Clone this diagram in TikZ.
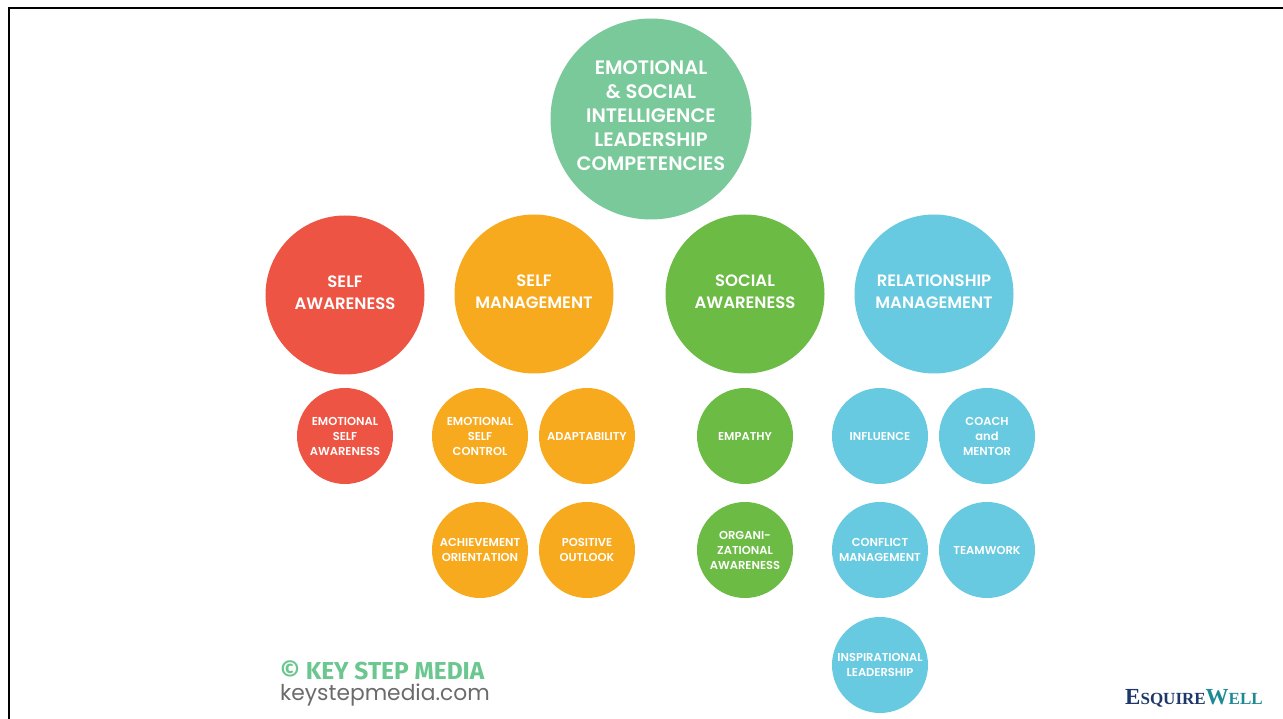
\documentclass[tikz,border=0pt]{standalone}
\usepackage{fontspec}
\setmainfont{Poppins}[BoldFont={Poppins SemiBold}]
\newfontfamily\footfont{Fira Sans}
\newfontfamily\logofont{Liberation Serif}
\definecolor{cMint}{HTML}{79C99A}
\definecolor{cRed}{HTML}{EE5443}
\definecolor{cOrange}{HTML}{F8AA1E}
\definecolor{cGreen}{HTML}{6BBB45}
\definecolor{cBlue}{HTML}{67CAE0}
\definecolor{cFoot}{HTML}{6CC690}
\definecolor{cGray}{HTML}{6B6B6B}
\definecolor{cNavy}{HTML}{1D3769}
\definecolor{cTeal}{HTML}{1F8A93}
\tikzset{
  bubble/.style={circle, inner sep=0pt, text=white, align=center},
  topc/.style={bubble, fill=cMint, minimum size=201pt, text depth=7pt,
    font=\bfseries\fontsize{19.5}{24}\selectfont},
  bigc/.style={bubble, minimum size=159pt, text depth=5pt,
    font=\bfseries\fontsize{16.5}{22}\selectfont},
  smallc/.style={bubble, minimum size=96pt,
    font=\bfseries\fontsize{11.5}{15}\selectfont},
  frame/.style={line width=2.5pt, black},
}
\begin{document}
\begin{tikzpicture}[x=1pt,y=-1pt]
\useasboundingbox (0,0) rectangle (1283,719);
% page frame (top and left edges)
\coordinate (fTR) at (1283,8);
\coordinate (fTL) at (9,8);
\coordinate (fBL) at (9,719);
\draw[frame] (fTR) -- (fTL) -- (fBL);

% root
\node[topc] (esi) at (651,119) {EMOTIONAL\\\& SOCIAL\\INTELLIGENCE\\LEADERSHIP\\COMPETENCIES};

% four domains
\node[bigc, fill=cRed]    (sa)  at (345,295) {SELF\\AWARENESS};
\node[bigc, fill=cOrange] (sm)  at (534,294) {SELF\\MANAGEMENT};
\node[bigc, fill=cGreen]  (soa) at (745,294) {SOCIAL\\AWARENESS};
\node[bigc, fill=cBlue]   (rm)  at (934,294) {RELATIONSHIP\\MANAGEMENT};

% self awareness
\node[smallc, fill=cRed] (esa) at (345,436) {EMOTIONAL\\SELF\\AWARENESS};

% self management
\node[smallc, fill=cOrange] (esc) at (480,436) {EMOTIONAL\\SELF\\CONTROL};
\node[smallc, fill=cOrange] (ada) at (587,436) {ADAPTABILITY};
\node[smallc, fill=cOrange] (ach) at (480,550) {ACHIEVEMENT\\ORIENTATION};
\node[smallc, fill=cOrange] (pos) at (587,550) {POSITIVE\\OUTLOOK};

% social awareness
\node[smallc, fill=cGreen] (emp) at (745,436) {EMPATHY};
\node[smallc, fill=cGreen] (org) at (745,550) {ORGANI-\\ZATIONAL\\AWARENESS};

% relationship management
\node[smallc, fill=cBlue] (inf) at (880,436) {INFLUENCE};
\node[smallc, fill=cBlue] (coa) at (987,436) {COACH\\and\\MENTOR};
\node[smallc, fill=cBlue] (con) at (880,550) {CONFLICT\\MANAGEMENT};
\node[smallc, fill=cBlue] (tea) at (987,550) {TEAMWORK};
\node[smallc, fill=cBlue] (ins) at (880,665) {INSPIRATIONAL\\LEADERSHIP};

% footer credits
\node[anchor=base west, inner sep=0pt, text=cFoot,
  font=\footfont\bfseries\fontsize{24.5}{24}\selectfont] (ksm) at (280,679) {© KEY STEP MEDIA};
\node[anchor=base west, inner sep=0pt, text=cGray,
  font=\fontsize{21.8}{22}\selectfont] (url) at (280,700) {keystepmedia.com};
\node[anchor=base west, inner sep=0pt, font=\logofont\bfseries] (ew) at (1125,704)
  {\textcolor{cNavy}{\fontsize{23}{23}\selectfont E\fontsize{17}{17}\selectfont SQUIRE}%
   \textcolor{cTeal}{\fontsize{23}{23}\selectfont W\fontsize{17}{17}\selectfont ELL}};
\end{tikzpicture}
\end{document}
